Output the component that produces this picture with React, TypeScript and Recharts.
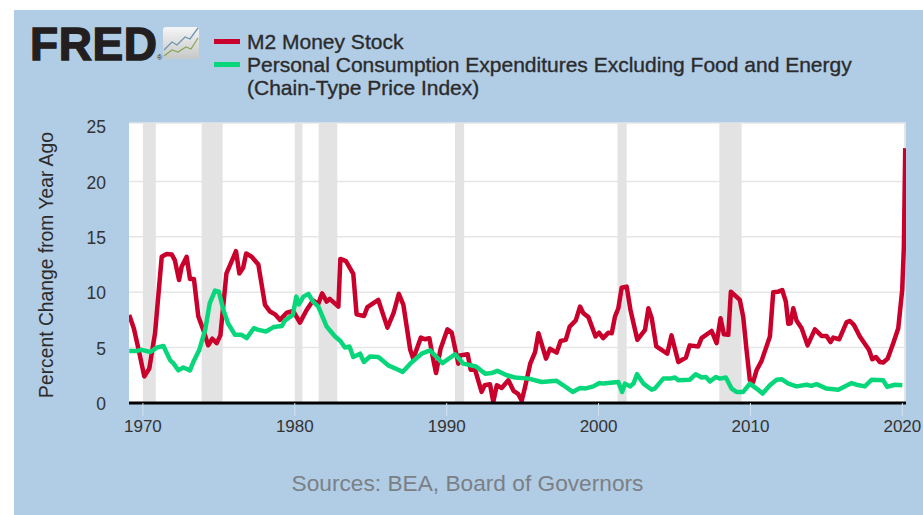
import { LineChart, Line, XAxis, YAxis, CartesianGrid, ReferenceArea, Legend } from 'recharts'

// years + values, one vertex per visible kink
const m2Years = [
  1969.1, 1969.41, 1969.77, 1970.09, 1970.42, 1970.8, 1971.24, 1971.56, 1971.9, 1972.1, 1972.38, 1972.55, 1972.88,
  1973.1, 1973.36, 1973.65, 1973.98, 1974.3, 1974.57, 1974.86, 1975.1, 1975.5, 1975.85, 1976.13, 1976.35, 1976.6,
  1976.8, 1977.16, 1977.6, 1978.04, 1978.37, 1978.7, 1979.03, 1979.47, 1979.9, 1980.34, 1980.78, 1981.2, 1981.55,
  1981.8, 1982.1, 1982.3, 1982.87, 1983.0, 1983.37, 1983.85, 1984.07, 1984.56, 1984.78, 1985.5, 1986.1, 1986.5,
  1986.85, 1987.15, 1987.6, 1987.8, 1988.3, 1988.57, 1988.86, 1989.12, 1989.3, 1989.6, 1990.05, 1990.33, 1990.77,
  1990.88, 1991.38, 1991.58, 1991.87, 1992.3, 1992.5, 1992.85, 1993.07, 1993.3, 1993.62, 1994.06, 1994.4, 1994.72,
  1994.94, 1995.16, 1995.5, 1995.82, 1996.04, 1996.54, 1996.8, 1997.24, 1997.5, 1997.84, 1998.1, 1998.5, 1998.78,
  1999.0, 1999.33, 1999.8, 2000.03, 2000.3, 2000.65, 2000.87, 2001.08, 2001.3, 2001.52, 2001.85, 2002.1, 2002.55,
  2003.06, 2003.28, 2003.5, 2003.8, 2004.52, 2004.8, 2005.25, 2005.75, 2006.0, 2006.56, 2006.78, 2007.44, 2007.77,
  2008.03, 2008.25, 2008.54, 2008.71, 2009.3, 2009.52, 2009.74, 2009.96, 2010.18, 2010.4, 2010.73, 2011.28, 2011.5,
  2011.83, 2012.09, 2012.33, 2012.49, 2012.64, 2012.82, 2013.03, 2013.37, 2013.76, 2014.24, 2014.68, 2015.01,
  2015.27, 2015.45, 2015.84, 2016.06, 2016.33, 2016.55, 2016.81, 2017.2, 2017.8, 2018.02, 2018.26, 2018.52, 2018.74,
  2019.03, 2019.4, 2019.73, 2019.99, 2020.1, 2020.19,
]
const m2Values = [
  7.95, 6.7, 4.5, 2.4, 3.1, 6.3, 13.2, 13.45, 13.4, 12.9, 11.1, 12.3, 13.2,
  11.2, 11.2, 7.8, 6.6, 5.2, 5.8, 5.4, 6.1, 11.7, 12.8, 13.7, 11.7, 12.2,
  13.5, 13.2, 12.5, 8.85, 8.25, 8.0, 7.5, 8.15, 8.3, 7.25, 8.4, 9.25, 8.95,
  9.9, 9.15, 9.4, 8.7, 13.0, 12.8, 11.65, 8.0, 7.85, 8.65, 9.3, 6.8, 8.1,
  9.85, 8.85, 4.8, 4.0, 5.9, 5.75, 5.85, 3.9, 2.7, 4.9, 6.65, 6.35, 3.55,
  4.3, 4.4, 3.0, 3.0, 1.0, 1.6, 1.7, 0.1, 1.6, 1.35, 2.05, 1.1, 0.8,
  0.2, 1.45, 3.55, 4.6, 6.3, 4.0, 4.9, 4.55, 5.6, 5.7, 6.9, 7.45, 8.7,
  8.1, 7.75, 6.0, 6.35, 5.85, 6.35, 6.3, 7.8, 8.55, 10.4, 10.5, 8.4, 5.7,
  6.6, 8.55, 7.65, 5.1, 4.45, 6.1, 3.7, 4.1, 5.2, 5.1, 5.85, 6.5, 5.4,
  7.65, 6.2, 6.15, 10.05, 9.3, 7.8, 4.8, 2.05, 1.9, 2.95, 3.8, 6.0, 10.0,
  10.05, 10.2, 9.15, 7.15, 7.2, 8.55, 7.45, 6.75, 5.2, 6.65, 6.05, 6.05,
  5.5, 5.9, 5.75, 6.45, 7.3, 7.4, 7.05, 6.0, 4.8, 3.95, 4.15, 3.7, 3.65,
  4.0, 5.4, 6.75, 10.2, 14.1, 23.0,
]
const pceYears = [
  1969.1, 1969.59, 1969.92, 1970.5, 1970.9, 1971.35, 1971.8, 1972.0, 1972.33, 1972.66, 1973.1, 1973.32, 1973.7,
  1974.1, 1974.4, 1974.75, 1975.0, 1975.3, 1975.6, 1976.06, 1976.5, 1976.83, 1977.3, 1977.6, 1978.1, 1978.6, 1979.15,
  1979.36, 1979.87, 1980.1, 1980.27, 1980.57, 1980.9, 1981.2, 1981.55, 1982.1, 1982.65, 1983.0, 1983.3, 1983.6,
  1983.85, 1984.3, 1984.55, 1984.95, 1985.5, 1986.15, 1986.88, 1987.1, 1987.6, 1988.35, 1988.9, 1989.23, 1989.72,
  1990.55, 1991.1, 1991.93, 1992.53, 1992.96, 1993.34, 1993.95, 1994.5, 1995.4, 1996.25, 1997.24, 1997.68, 1998.3,
  1998.78, 1999.1, 1999.66, 2000.05, 2000.3, 2001.3, 2001.55, 2001.74, 2002.07, 2002.3, 2002.53, 2002.95, 2003.5,
  2003.7, 2004.26, 2004.7, 2005.03, 2005.25, 2006.0, 2006.4, 2006.78, 2007.07, 2007.33, 2007.72, 2007.99, 2008.38,
  2008.76, 2009.08, 2009.52, 2009.96, 2010.4, 2010.8, 2011.28, 2011.72, 2012.05, 2012.49, 2013.03, 2013.7, 2014.02,
  2014.35, 2015.01, 2015.78, 2016.66, 2016.98, 2017.53, 2017.97, 2018.74, 2019.0, 2019.5, 2020.0,
]
const pceValues = [
  4.7, 4.7, 4.8, 4.6, 5.0, 5.15, 3.85, 3.6, 2.95, 3.2, 2.95, 3.7, 4.75,
  6.6, 9.0, 10.15, 10.05, 8.4, 7.2, 6.15, 6.15, 5.85, 6.75, 6.6, 6.45, 6.85, 6.95,
  7.45, 7.95, 9.6, 8.9, 9.6, 9.85, 9.15, 8.7, 6.9, 6.0, 5.6, 5.0, 5.1,
  4.15, 4.45, 3.7, 4.2, 4.15, 3.4, 2.95, 2.8, 3.55, 4.45, 4.75, 4.3, 3.6,
  4.4, 3.55, 3.3, 2.65, 2.7, 2.9, 2.5, 2.3, 2.2, 1.9, 2.0, 1.6, 1.0,
  1.35, 1.3, 1.5, 1.8, 1.75, 1.9, 1.0, 1.75, 1.5, 1.75, 2.6, 1.75, 1.2,
  1.3, 2.2, 2.2, 2.3, 2.05, 2.1, 2.6, 2.3, 2.35, 1.95, 2.35, 2.2, 2.3,
  1.3, 1.0, 1.0, 1.75, 1.3, 0.85, 1.6, 2.1, 2.15, 1.75, 1.5, 1.65, 1.55,
  1.7, 1.3, 1.2, 1.8, 1.65, 1.5, 2.1, 2.05, 1.45, 1.65, 1.6,
]

const recessionStarts = [1970.0, 1973.87, 1980.0, 1981.57, 1990.55, 2001.25, 2007.95, 2020.12]
const recessionEnds = [1970.85, 1975.25, 1980.5, 1982.8, 1991.15, 2001.85, 2009.42, 2020.24]

const xTicks = [1970, 1980, 1990, 2000, 2010, 2020]
const yTicks = [0, 5, 10, 15, 20, 25]
const yMax = 25.27

const m2Name = 'M2 Money Stock'
const pceName = 'Personal Consumption Expenditures Excluding Food and Energy (Chain-Type Price Index)'
const sourceText = 'Sources: BEA, Board of Governors'

const m2Data = m2Years.map((year, i) => ({ year, value: m2Values[i] }))
const pceData = pceYears.map((year, i) => ({ year, value: pceValues[i] }))

const FONT = '"Liberation Sans", Arial, sans-serif'
const PANEL = '#b1cce5'
const RED = '#c9002b'
const GREEN = '#07d67b'

function FredLogo() {
  return (
    <svg width={200} height={60} style={{ position: 'absolute', left: 0, top: 0 }}>
      <defs>
        <linearGradient id="badge" x1="0" y1="0" x2="0" y2="1">
          <stop offset="0%" stopColor="#f4f6f7" />
          <stop offset="100%" stopColor="#c6c8c6" />
        </linearGradient>
      </defs>
      <text x={16} y={49.5} fontFamily={FONT} fontWeight={700} fontSize={46} letterSpacing={0.6} fill="#231f20" stroke="#231f20" strokeWidth={1.4}>
        FRED
      </text>
      <text x={143} y={50} fontFamily={FONT} fontSize={7} fill="#231f20">®</text>
      <rect x={149} y={17} width={36} height={32} rx={3} fill="url(#badge)" />
      <polyline points="150,40 158,32 163,35 171,27 176,29 184,18" fill="none" stroke="#6f95ad" strokeWidth={1.3} />
      <polyline points="150,46 158,40 164,42 172,37 177,39 184,28" fill="none" stroke="#8aa65a" strokeWidth={1.3} />
    </svg>
  )
}

function LegendContent({ payload }: any) {
  return (
    <div style={{ fontFamily: FONT, fontSize: 21, lineHeight: '23px', color: '#2b2b2b', WebkitTextStroke: '0.35px #2b2b2b' }}>
      {(payload || []).map((item: any) => (
        <div key={item.value} style={{ position: 'relative', paddingLeft: 33 }}>
          <span style={{ position: 'absolute', left: 0, top: 9, width: 26, height: 5, background: item.color }} />
          {item.value}
        </div>
      ))}
    </div>
  )
}

export default function App() {
  return (
    <div style={{ position: 'absolute', left: 0, top: 0, width: 923, height: 515, background: '#fff', overflow: 'hidden' }}>
      <div style={{ position: 'absolute', left: 14, top: 10, width: 909, height: 505, background: PANEL }}>
        <LineChart width={909} height={505} margin={{ top: 44, right: 17, bottom: 0, left: 0 }}>
          <CartesianGrid
            horizontal
            vertical={false}
            horizontalValues={[5, 10, 15, 20, yMax]}
            stroke="#e6e6e6"
            strokeWidth={1.5}
            fill="#ffffff"
          />
          <XAxis
            type="number"
            dataKey="year"
            domain={[1969.085, 2020.24]}
            allowDataOverflow
            ticks={xTicks}
            interval={0}
            height={112}
            tickSize={13}
            tickMargin={4}
            tick={{ fill: '#333333', fontSize: 17, fontFamily: FONT }}
            tickLine={{ stroke: '#d5e1ef', strokeWidth: 1 }}
            axisLine={{ stroke: '#000000', strokeWidth: 3 }}
          />
          <YAxis
            type="number"
            domain={[0, yMax]}
            allowDataOverflow
            ticks={yTicks}
            interval={0}
            width={115}
            tickSize={0}
            tickMargin={23}
            tick={{ fill: '#333333', fontSize: 17.5, fontFamily: FONT, dy: 1 }}
            tickLine={false}
            axisLine={false}
            label={{
              value: 'Percent Change from Year Ago',
              angle: -90,
              position: 'center',
              dx: -25,
              dy: 2,
              style: { fill: '#2b2b2b', fontSize: 19.3, fontFamily: FONT, textAnchor: 'middle' },
            }}
          />
          {recessionStarts.map((start, i) => (
            <ReferenceArea key={start} x1={start} x2={recessionEnds[i]} fill="#e3e3e3" fillOpacity={1} stroke="none" />
          ))}
          <Legend
            verticalAlign="top"
            content={<LegendContent />}
            wrapperStyle={{ left: 200, top: 20, width: 660 }}
          />
          <Line data={m2Data} dataKey="value" name={m2Name} type="linear" stroke={RED} strokeWidth={4.5} dot={false} isAnimationActive={false} strokeLinejoin="round" />
          <Line data={pceData} dataKey="value" name={pceName} type="linear" stroke={GREEN} strokeWidth={4.5} dot={false} isAnimationActive={false} strokeLinejoin="round" />
        </LineChart>
        <div style={{ position: 'absolute', left: 0, width: 907, top: 460, textAlign: 'center', fontFamily: FONT, fontSize: 22.7, color: '#7b8085' }}>
          {sourceText}
        </div>
        <FredLogo />
      </div>
    </div>
  )
}
